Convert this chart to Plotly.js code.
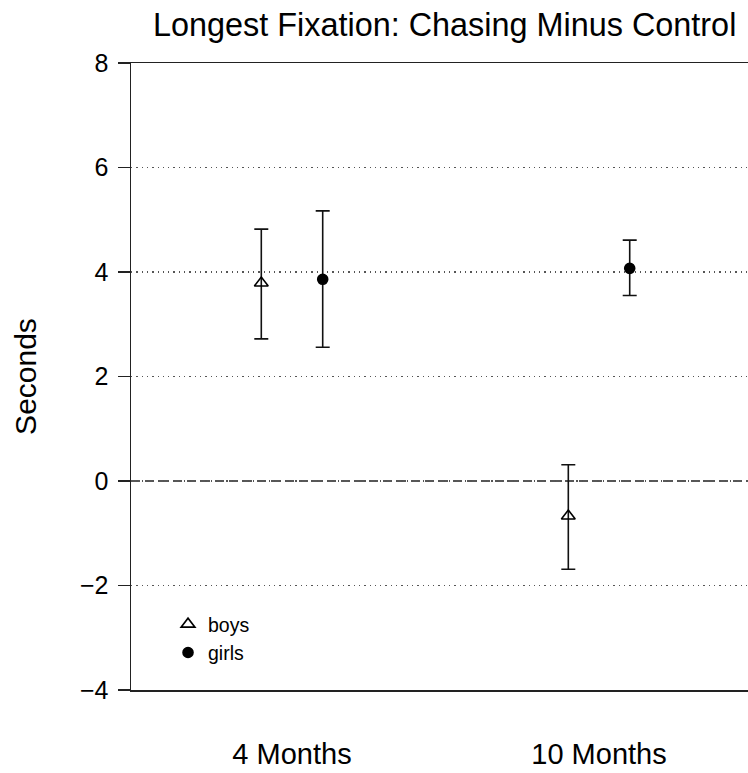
<!DOCTYPE html>
<html>
<head>
<meta charset="utf-8">
<script src="https://cdn.plot.ly/plotly-3.0.1.min.js"></script>
<style>html,body{margin:0;padding:0;background:#fff;overflow:hidden}</style>
</head>
<body>
<div id="chart" style="width:748px;height:773px"></div>
<script>
// Data
const categories = ['4 Months', '10 Months'];
const boysMean  = [3.79, -0.67];
const boysLow   = [2.72, -1.69];
const boysHigh  = [4.82,  0.31];
const girlsMean = [3.86,  4.07];
const girlsLow  = [2.56,  3.55];
const girlsHigh = [5.17,  4.61];
const yTicks = [-4, -2, 0, 2, 4, 6, 8];

const OFFSET = 0.1;
const idx = categories.map((c, i) => i);
const FONT = 'Liberation Sans, Arial, Helvetica, sans-serif';

function trace(name, mean, low, high, sign, symbol, size) {
  return {
    type: 'scatter', mode: 'markers', name: name,
    x: idx.map(i => i + sign * OFFSET),
    y: mean,
    marker: {symbol: symbol, size: size, color: '#000', line: {color: '#000', width: 1.6}},
    error_y: {
      type: 'data', symmetric: false,
      array: high.map((h, i) => h - mean[i]),
      arrayminus: low.map((l, i) => mean[i] - l),
      color: '#111', thickness: 1.6, width: 7
    },
    hoverinfo: 'x+y'
  };
}

const data = [
  trace('boys', boysMean, boysLow, boysHigh, -1, 'triangle-up-open', 12),
  trace('girls', girlsMean, girlsLow, girlsHigh, 1, 'circle', 10)
];

const layout = {
  width: 748, height: 773,
  margin: {l: 131, r: 0, t: 63, b: 83},
  paper_bgcolor: '#fff', plot_bgcolor: '#fff',
  font: {family: FONT, color: '#000'},
  showlegend: true,
  title: {
    text: 'Longest Fixation: Chasing Minus Control',
    font: {size: 32.4, color: '#000', family: FONT},
    x: 0.5084, xref: 'paper', xanchor: 'center',
    y: 1 - 25 / 773, yref: 'container', yanchor: 'middle'
  },
  xaxis: {
    range: [-0.5244, 1.4853],
    tickvals: idx, ticktext: categories,
    ticks: '', showgrid: false, zeroline: false,
    showline: true, mirror: true, linecolor: '#222', linewidth: 1.5,
    tickfont: {size: 29, color: '#000'},
    ticklabelstandoff: 38
  },
  yaxis: {
    range: [-4, 8],
    tickvals: yTicks,
    ticks: 'outside', ticklen: 12, tickwidth: 1.4, tickcolor: '#222',
    showline: true, mirror: false, linecolor: '#222', linewidth: 1.5,
    showgrid: true, gridcolor: '#555', gridwidth: 1.3, griddash: '1.3px,4px',
    zeroline: false,
    tickfont: {size: 25, color: '#000'},
    ticklabelstandoff: 4,
    title: {text: 'Seconds', font: {size: 30, color: '#000'}, standoff: 34}
  },
  shapes: [
    {type: 'line', xref: 'paper', x0: 0, x1: 1, yref: 'y', y0: 0, y1: 0,
     layer: 'between', line: {color: '#fff', width: 3}},
    {type: 'line', xref: 'paper', x0: 0, x1: 1, yref: 'y', y0: 0, y1: 0,
     layer: 'between', line: {color: '#222', width: 1.5, dash: '9px,5px'}}
  ],
  legend: {
    x: 0.06, xanchor: 'left', y: 0.1356, yanchor: 'top',
    bgcolor: 'rgba(0,0,0,0)', borderwidth: 0,
    font: {size: 19.5, color: '#000'},
    tracegroupgap: 0
  }
};

Plotly.newPlot('chart', data, layout, {displayModeBar: false, staticPlot: true});
</script>
</body>
</html>
